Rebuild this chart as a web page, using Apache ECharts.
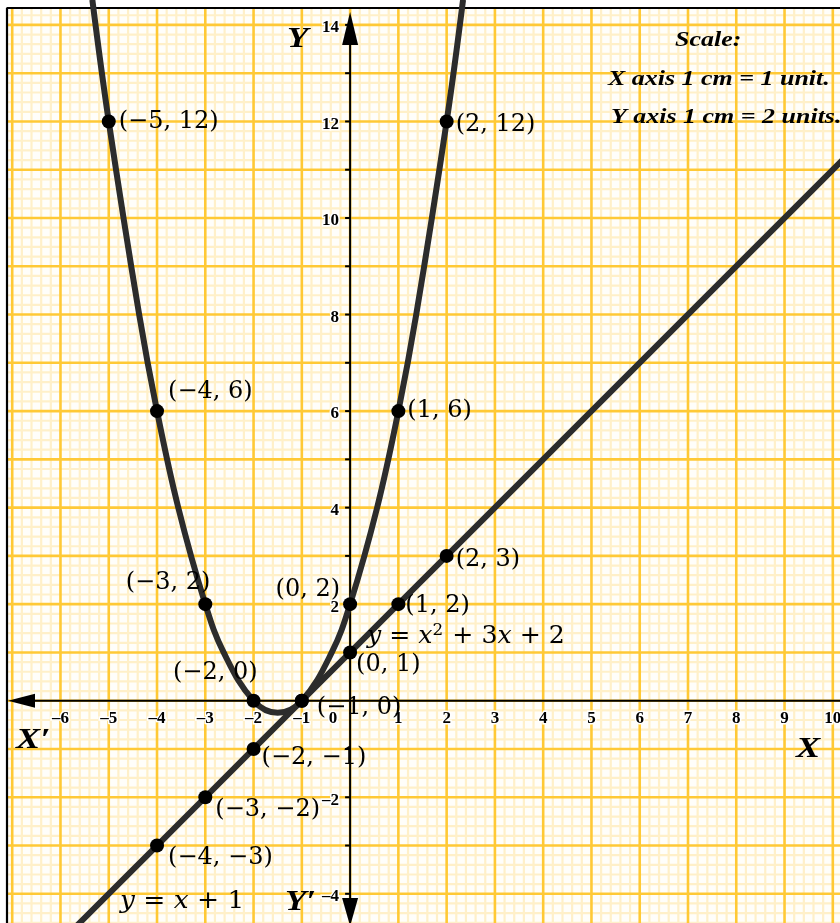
<!DOCTYPE html>
<html>
<head>
<meta charset="utf-8">
<script src="https://cdn.jsdelivr.net/npm/echarts@6/dist/echarts.min.js"></script>
<style>
  html, body { margin: 0; padding: 0; background: #ffffff; }
  #chart { width: 840px; height: 923px; }
</style>
</head>
<body>
<div id="chart"></div>
<script>
// ---- values ----
// tick values written along the axes
const xTickLabels = [-6, -5, -4, -3, -2, -1, 0, 1, 2, 3, 4, 5, 6, 7, 8, 9, 10];
const yTickLabels = [-4, -2, 2, 4, 6, 8, 10, 12, 14];
const yTickMarks = [-4, -3, -2, -1, 1, 2, 3, 4, 5, 6, 7, 8, 9, 10, 11, 12, 13, 14];

// y = x^2 + 3x + 2 : plotted points
const parabolaX = [-5, -4, -3, -2, -1, 0, 1, 2];
const parabolaY = [12, 6, 2, 0, 0, 2, 6, 12];
// traced curve: sheet exits, plotted points, ruling crossings and lowest point
const parabolaTraceX = [-5.34, -5, -4.37, -4, -3.56, -3, -2.62, -2, -1.5, -1, -0.38, 0, 0.56, 1, 1.37, 2, 2.34];
const parabolaTraceY = [14.52, 12, 8, 6, 4, 2, 1, 0, -0.25, 0, 1, 2, 4, 6, 8, 12, 14.52];

// y = x + 1 : plotted points
const lineX = [-4, -3, -2, -1, 0, 1, 2];
const lineY = [-3, -2, -1, 0, 1, 2, 3];
// traced line, run out past both edges of the sheet
const lineTraceX = [-5.8, -4, -3, -2, -1, 0, 1, 2, 10.4];
const lineTraceY = [-4.8, -3, -2, -1, 0, 1, 2, 3, 11.4];

// ---- view and layout ----
const X_MIN = -7.253, X_MAX = 10.149, Y_MIN = -4.605, Y_MAX = 14.516;
const PAPER_LEFT = 7, PAPER_TOP = 8;          // sheet inset, px
const MINOR_PER_UNIT = 5;
const MAJOR_COLOR = '#ffc936';
const MINOR_COLOR = '#fff0c9';
const INK = '#000000';
const CURVE = '#2c2c2c';
const DOT_SIZE = 14;

const TICK_FONT = 'bold 17px "Liberation Serif", "Times New Roman", serif';
const NAME_FONT = 'italic bold 29px "Liberation Serif", "Times New Roman", serif';
const SCALE_FONT = 'italic bold 22px "Liberation Serif", "Times New Roman", serif';
const POINT_FONT_FAMILY = '"DejaVu Serif", serif';

// label placement for each plotted point: [align, dx, dy]
const LABEL_PLACE = {
  '-5,12': ['left', 10, 0],
  '-4,6': ['left', 11, -19],
  '-3,2': ['right', 5, -21],
  '-2,0': ['right', 4, -28],
  '-1,0': ['left', 15, 7],
  '0,2': ['right', -10, -14],
  '1,6': ['left', 9, 0],
  '2,12': ['left', 9, 3],
  '-4,-3': ['left', 11, 12],
  '-3,-2': ['left', 10, 13],
  '-2,-1': ['left', 8, 9],
  '0,1': ['left', 6, 12],
  '1,2': ['left', 7, 2],
  '2,3': ['left', 9, 4]
};

const fmt = v => (v < 0 ? '\u2212' + Math.abs(v) : String(v));
const tickFmt = v => (v < 0 ? '\u2013' + Math.abs(v) : String(v));

function zip(xs, ys) { return xs.map((x, i) => [x, ys[i]]); }

function pointItems(xs, ys, skipLabel) {
  const half = DOT_SIZE / 2;
  return xs.map((x, i) => {
    const y = ys[i];
    const key = x + ',' + y;
    const place = LABEL_PLACE[key];
    const show = !!place && !(skipLabel && skipLabel.indexOf(key) >= 0);
    return {
      value: [x, y],
      label: show ? {
        show: true,
        position: [half + place[1], half + place[2]],
        align: place[0],
        verticalAlign: 'middle'
      } : { show: false }
    };
  });
}

// graph paper: sheet, fine rulings, unit rulings and the sheet's edge
function renderPaper(params, api) {
  const cs = params.coordSys;
  const left = cs.x + PAPER_LEFT, top = cs.y + PAPER_TOP;
  const right = cs.x + cs.width, bottom = cs.y + cs.height;
  const kids = [];
  kids.push({ type: 'rect', shape: { x: left, y: top, width: right - left, height: bottom - top },
              style: { fill: '#fffefa' } });
  const minor = [], major = [];
  for (let k = Math.ceil(X_MIN * MINOR_PER_UNIT); k <= Math.floor(X_MAX * MINOR_PER_UNIT); k++) {
    const px = api.coord([k / MINOR_PER_UNIT, 0])[0];
    if (px < left + 1) continue;
    (k % MINOR_PER_UNIT === 0 ? major : minor).push({ x1: px, y1: top, x2: px, y2: bottom });
  }
  for (let k = Math.ceil(Y_MIN * MINOR_PER_UNIT); k <= Math.floor(Y_MAX * MINOR_PER_UNIT); k++) {
    const py = api.coord([0, k / MINOR_PER_UNIT])[1];
    if (py < top + 1) continue;
    (k % MINOR_PER_UNIT === 0 ? major : minor).push({ x1: left, y1: py, x2: right, y2: py });
  }
  minor.forEach(s => kids.push({ type: 'line', shape: s, style: { stroke: MINOR_COLOR, lineWidth: 2.2 } }));
  major.forEach(s => kids.push({ type: 'line', shape: s, style: { stroke: MAJOR_COLOR, lineWidth: 2.6 } }));
  kids.push({ type: 'line', shape: { x1: left - 0.5, y1: top, x2: right, y2: top }, style: { stroke: INK, lineWidth: 2.2 } });
  kids.push({ type: 'line', shape: { x1: left, y1: top, x2: left, y2: bottom }, style: { stroke: INK, lineWidth: 2.2 } });
  return { type: 'group', children: kids };
}

// coordinate axes with arrow heads, tick marks and tick labels
function renderAxes(params, api) {
  const cs = params.coordSys;
  const left = cs.x + PAPER_LEFT, top = cs.y + PAPER_TOP;
  const right = cs.x + cs.width, bottom = cs.y + cs.height;
  const o = api.coord([0, 0]);
  const ax = o[0], ay = o[1];
  const kids = [];
  // x axis, arrow pointing to X'
  kids.push({ type: 'line', shape: { x1: left + 20, y1: ay, x2: right, y2: ay }, style: { stroke: INK, lineWidth: 2 } });
  kids.push({ type: 'polygon', shape: { points: [[left + 1, ay], [left + 28, ay - 7], [left + 28, ay + 7]] }, style: { fill: INK } });
  // y axis, arrows to Y and Y'
  kids.push({ type: 'line', shape: { x1: ax, y1: top + 30, x2: ax, y2: bottom - 20 }, style: { stroke: INK, lineWidth: 2 } });
  kids.push({ type: 'polygon', shape: { points: [[ax, top + 4], [ax - 8, top + 37], [ax + 8, top + 37]] }, style: { fill: INK } });
  kids.push({ type: 'polygon', shape: { points: [[ax, bottom + 3], [ax - 8, bottom - 25], [ax + 8, bottom - 25]] }, style: { fill: INK } });
  // y tick marks
  yTickMarks.forEach(v => {
    const py = api.coord([0, v])[1];
    kids.push({ type: 'line', shape: { x1: ax - 5, y1: py, x2: ax, y2: py }, style: { stroke: INK, lineWidth: 2 } });
  });
  // tick labels
  xTickLabels.forEach(v => {
    const px = api.coord([v, 0])[0];
    const zero = v === 0;
    kids.push({ type: 'text', x: zero ? px - 17 : px, y: ay + 18,
      style: { text: tickFmt(v), font: TICK_FONT, fill: INK, align: 'center', verticalAlign: 'middle',
               textAlign: 'center', textVerticalAlign: 'middle', stroke: '#ffffff', lineWidth: 3 } });
  });
  yTickLabels.forEach(v => {
    const py = api.coord([0, v])[1];
    kids.push({ type: 'text', x: ax - 11, y: py + 3,
      style: { text: tickFmt(v), font: TICK_FONT, fill: INK, align: 'right', verticalAlign: 'middle',
               textAlign: 'right', textVerticalAlign: 'middle', stroke: '#ffffff', lineWidth: 3 } });
  });
  return { type: 'group', children: kids };
}

const pointLabelStyle = {
  fontFamily: POINT_FONT_FAMILY,
  fontSize: 24,
  color: '#000000',
  opacity: 1,
  textBorderWidth: 0,
  formatter: p => '(' + fmt(p.value[0]) + ', ' + fmt(p.value[1]) + ')'
};

const eqRich = {
  i: { fontFamily: POINT_FONT_FAMILY, fontStyle: 'italic', fontSize: 24, fill: '#000000' },
  s: { fontFamily: POINT_FONT_FAMILY, fontSize: 16, fill: '#000000', verticalAlign: 'top', padding: [0, 1, 12, 0] }
};

const option = {
  animation: false,
  backgroundColor: '#ffffff',
  grid: { left: 0, right: 0, top: 0, bottom: 0, containLabel: false },
  xAxis: { type: 'value', min: X_MIN, max: X_MAX, show: false },
  yAxis: { type: 'value', min: Y_MIN, max: Y_MAX, show: false },
  series: [
    { type: 'custom', name: 'paper', z: 0, silent: true, data: [[0, 0]], renderItem: renderPaper },
    { type: 'custom', name: 'axes', z: 2, silent: true, data: [[0, 0]], renderItem: renderAxes },
    {
      type: 'line', name: 'y = x^2 + 3x + 2', z: 3, data: zip(parabolaTraceX, parabolaTraceY),
      smooth: 0.4, showSymbol: false, clip: true,
      lineStyle: { color: CURVE, width: 6 }
    },
    {
      type: 'line', name: 'y = x + 1', z: 3, data: zip(lineTraceX, lineTraceY),
      showSymbol: false, clip: true,
      lineStyle: { color: CURVE, width: 6 }
    },
    {
      type: 'scatter', name: 'parabola points', z: 4, symbol: 'circle', symbolSize: DOT_SIZE,
      itemStyle: { color: INK, opacity: 1 }, label: pointLabelStyle,
      data: pointItems(parabolaX, parabolaY)
    },
    {
      type: 'scatter', name: 'line points', z: 4, symbol: 'circle', symbolSize: DOT_SIZE,
      itemStyle: { color: INK, opacity: 1 }, label: pointLabelStyle,
      data: pointItems(lineX, lineY, ['-1,0'])
    }
  ],
  graphic: [
    // axis names
    { type: 'text', x: 287, y: 25, scaleX: 1.2, z: 10, style: { text: 'Y', font: NAME_FONT, fill: INK } },
    { type: 'text', x: 16, y: 726, scaleX: 1.25, z: 10, style: { text: 'X\u2032', font: NAME_FONT, fill: INK } },
    { type: 'text', x: 796, y: 735, scaleX: 1.25, z: 10, style: { text: 'X', font: NAME_FONT, fill: INK } },
    { type: 'text', x: 285, y: 888, scaleX: 1.2, z: 10, style: { text: 'Y\u2032', font: NAME_FONT, fill: INK } },
    // equations of the two graphs
    { type: 'text', x: 367, y: 623, scaleX: 1.05, z: 10, style: {
        text: '{i|y} = {i|x}{s|2} + 3{i|x} + 2', rich: eqRich,
        font: '24px ' + POINT_FONT_FAMILY, fill: '#000000' } },
    { type: 'text', x: 120, y: 890, scaleX: 1.1, z: 10, style: {
        text: '{i|y} = {i|x} + 1', rich: eqRich,
        font: '24px ' + POINT_FONT_FAMILY, fill: '#000000' } },
    // scale note
    { type: 'text', x: 675, y: 29, scaleX: 1.18, z: 10, style: { text: 'Scale:', font: SCALE_FONT, fill: INK } },
    { type: 'text', x: 608, y: 68, scaleX: 1.18, z: 10, style: { text: 'X axis 1 cm = 1 unit.', font: SCALE_FONT, fill: INK } },
    { type: 'text', x: 611, y: 106, scaleX: 1.18, z: 10, style: { text: 'Y axis 1 cm = 2 units.', font: SCALE_FONT, fill: INK } }
  ]
};

const chart = echarts.init(document.getElementById('chart'));
chart.setOption(option);
</script>
</body>
</html>
